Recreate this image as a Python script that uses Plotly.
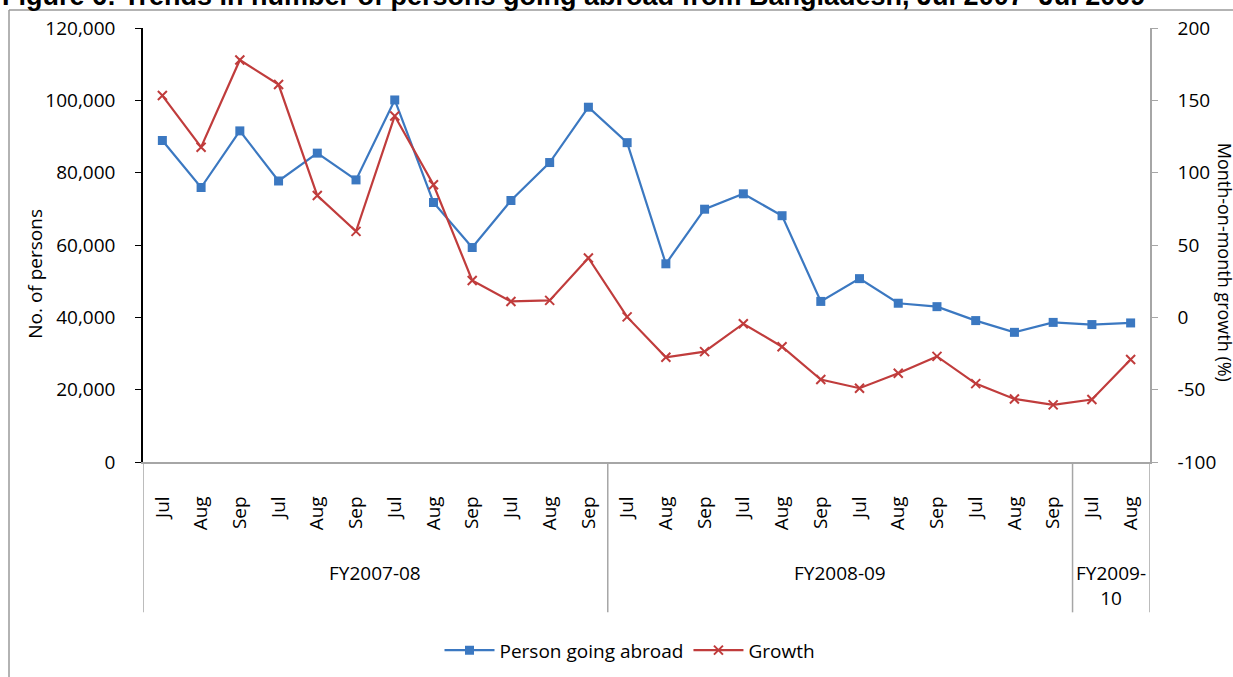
import plotly.graph_objects as go

# Monthly series, FY2007-08 through FY2009-10
months = ["Jul", "Aug", "Sep", "Jul", "Aug", "Sep", "Jul", "Aug", "Sep", "Jul", "Aug", "Sep",
          "Jul", "Aug", "Sep", "Jul", "Aug", "Sep", "Jul", "Aug", "Sep", "Jul", "Aug", "Sep",
          "Jul", "Aug"]
fiscal_years = ["FY2007-08", "FY2008-09", "FY2009-<br>10"]
fy_sizes = [12, 12, 2]

persons_abroad = [88900, 75900, 91550, 77700, 85400, 78000, 100100, 71750, 59300, 72300,
                  82800, 98100, 88300, 54800, 69900, 74150, 68100, 44400, 50700, 43900,
                  42950, 39100, 35850, 38600, 38000, 38450]
growth_pct = [153.3, 117.6, 177.9, 160.9, 84.2, 59.4, 139.2, 91.6, 25.5, 11.0, 11.7, 41.0,
              0.3, -27.6, -23.7, -4.4, -20.3, -43.0, -49.0, -38.7, -27.0, -45.8, -56.4,
              -60.5, -56.8, -29.2]

left_ticks = list(range(0, 120001, 20000))
right_ticks = list(range(-100, 201, 50))

BLUE = "#3b78c1"
RED = "#c03c3c"
GRAY = "#a6a6a6"
FONT = "Open Sans"

W, H = 1233, 677
L, R, T, B = 143, 1150, 28, 462.5
pw, ph = R - L, B - T


def px_x(p):
    return (p - L) / pw


def px_y(p):
    return (B - p) / ph


x = list(range(len(months)))

fig = go.Figure()
fig.add_trace(go.Scatter(
    x=x, y=persons_abroad, name="Person going abroad", mode="lines+markers",
    line=dict(color=BLUE, width=2.2),
    marker=dict(symbol="square", size=9, color=BLUE),
))
fig.add_trace(go.Scatter(
    x=x, y=growth_pct, name="Growth", mode="lines+markers", yaxis="y2",
    line=dict(color=RED, width=2.2),
    marker=dict(symbol="x-thin", size=9, color=RED, line=dict(color=RED, width=2)),
))

shapes = []
# chart frame (left and top edges)
shapes.append(dict(type="line", xref="paper", yref="paper", x0=px_x(9), x1=px_x(9),
                   y0=px_y(10), y1=px_y(H + 5), line=dict(color="#9a9a9a", width=1.5)))
shapes.append(dict(type="line", xref="paper", yref="paper", x0=px_x(9), x1=px_x(W + 5),
                   y0=px_y(10), y1=px_y(10), line=dict(color="#9a9a9a", width=1.5)))
# fiscal-year group separators below the category axis
bounds = [-0.5]
for n in fy_sizes:
    bounds.append(bounds[-1] + n)
for b in bounds:
    shapes.append(dict(type="line", xref="x", yref="paper", x0=b, x1=b,
                       y0=0, y1=px_y(613), line=dict(color=GRAY, width=1.5)))

annotations = []
# fiscal-year group labels
for i, fy in enumerate(fiscal_years):
    centre = (bounds[i] + bounds[i + 1]) / 2
    annotations.append(dict(xref="x", yref="paper", x=centre, y=px_y(559), text=fy,
                            showarrow=False, yanchor="top", xanchor="center",
                            font=dict(family=FONT, size=19, color="#000")))
# axis titles
annotations.append(dict(xref="paper", yref="paper", x=px_x(35), y=px_y(274),
                        text="No. of persons", textangle=-90, showarrow=False,
                        xanchor="center", yanchor="middle",
                        font=dict(family=FONT, size=19, color="#000")))
annotations.append(dict(xref="paper", yref="paper", x=px_x(1225), y=px_y(262),
                        text="Month-on-month growth (%)", textangle=90, showarrow=False,
                        xanchor="center", yanchor="middle",
                        font=dict(family=FONT, size=18, color="#000")))
# figure title
annotations.append(dict(xref="paper", yref="paper", x=px_x(0), y=px_y(13),
                        text="Figure 6: Trends in number of persons going abroad from Bangladesh, Jul 2007–Jul 2009",
                        showarrow=False, xanchor="left", yanchor="bottom",
                        font=dict(family="Liberation Sans", size=27, color="#000", weight="bold")))

fig.update_layout(
    width=W, height=H,
    margin=dict(l=L, r=W - R, t=T, b=H - B, pad=0, autoexpand=False),
    paper_bgcolor="white", plot_bgcolor="white",
    font=dict(family=FONT, size=19, color="#000"),
    showlegend=True,
    legend=dict(orientation="h", x=px_x(630), y=px_y(651), xanchor="center", yanchor="middle",
                font=dict(family=FONT, size=19, color="#000"), itemwidth=50,
                bgcolor="rgba(0,0,0,0)"),
    xaxis=dict(range=[-0.5, len(months) - 0.5], tickvals=x, ticktext=months, tickangle=-90,
               showline=True, linecolor=GRAY, linewidth=1.5, ticks="", showgrid=False,
               zeroline=False, ticklabelstandoff=25, tickfont=dict(family=FONT, size=19)),
    yaxis=dict(range=[0, 120000], tickvals=left_ticks,
               ticktext=[f"{v:,}" for v in left_ticks],
               showline=True, linecolor="#000", linewidth=1.5, ticks="outside", ticklen=6,
               tickcolor="#000", showgrid=False, zeroline=False, ticklabelstandoff=16,
               tickfont=dict(family=FONT, size=19)),
    yaxis2=dict(range=[-100, 200], tickvals=right_ticks,
                ticktext=[str(v) for v in right_ticks], overlaying="y",
                side="right", showline=True, linecolor=GRAY, linewidth=1.5, ticks="outside",
                ticklen=6, tickcolor=GRAY, showgrid=False, zeroline=False,
                ticklabelstandoff=16, tickfont=dict(family=FONT, size=19)),
    shapes=shapes,
    annotations=annotations,
)

fig.write_html("out.html")
